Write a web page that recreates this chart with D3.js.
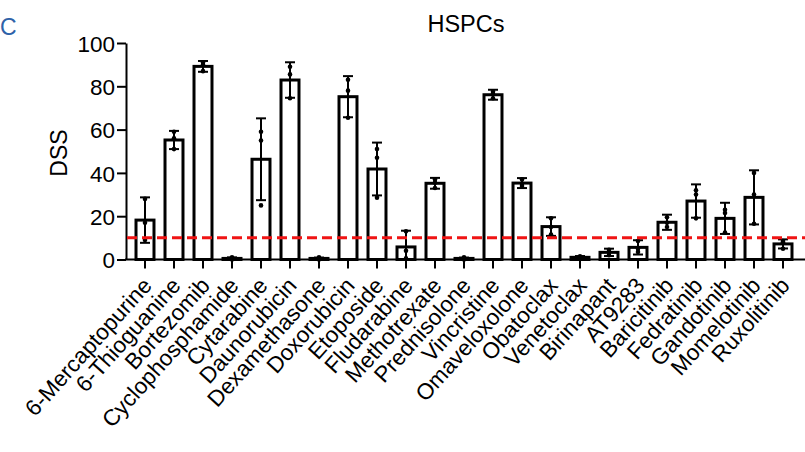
<!DOCTYPE html>
<html>
<head>
<meta charset="utf-8">
<script src="https://cdn.jsdelivr.net/npm/d3@7"></script>
<style>
  body { margin: 0; background: #fff; }
  text { font-family: Arial, "Liberation Sans", sans-serif; }
</style>
</head>
<body>
<div id="chart"></div>
<script>
const drugs = ['6-Mercaptopurine', '6-Thioguanine', 'Bortezomib', 'Cyclophosphamide', 'Cytarabine',
  'Daunorubicin', 'Dexamethasone', 'Doxorubicin', 'Etoposide', 'Fludarabine', 'Methotrexate',
  'Prednisolone', 'Vincristine', 'Omaveloxolone', 'Obatoclax', 'Venetoclax', 'Birinapant',
  'AT9283', 'Baricitinib', 'Fedratinib', 'Gandotinib', 'Momelotinib', 'Ruxolitinib'];
const meanDss = [18.2, 55.2, 89.2, 0.5, 46.3, 82.9, 0.5, 75.2, 41.8, 5.8, 35.2,
  0.5, 76.1, 35.3, 15.2, 1.0, 3.3, 5.6, 17.2, 27.0, 19.0, 28.7, 7.2];
const sdDss = [10.5, 4.2, 2.5, 0.5, 18.9, 8.2, 0.4, 9.5, 12.2, 7.5, 2.5,
  0.4, 2.3, 2.3, 4.3, 0.6, 1.7, 3.3, 3.5, 7.7, 7.2, 12.5, 2.1];
const replicates = [[28, 17, 9], [59, 56, 51], [91, 90, 87], [0, 0.5, 1], [59, 55, 25],
  [89, 85.5, 74.5], [0, 0.5, 1], [83, 78, 65.5], [51, 47, 28.5], [13, 4, 0.5], [37, 35.5, 33],
  [0, 0.5, 1], [77.5, 76.5, 74.5], [37, 35, 34], [19, 15, 11.5], [0.5, 1, 1.5], [4.5, 3.5, 2],
  [8.5, 5, 3.5], [19.5, 17, 15], [32, 30, 19], [23, 21.5, 12.5], [40, 30, 16.5], [8.5, 8, 5]];
const yTicks = [0, 20, 40, 60, 80, 100];
const threshold = 10;

const width = 805;
const height = 452;

const svg = d3.select('#chart')
  .append('svg')
  .attr('width', width)
  .attr('height', height);

// scales
const x = d3.scaleBand()
  .domain(drugs)
  .range([130.5, 797.5])
  .paddingInner(0.38)
  .paddingOuter(0.19);

const y = d3.scaleLinear()
  .domain([0, 100])
  .range([259.5, 43]);

// panel letter + title
svg.append('text')
  .attr('x', 0).attr('y', 35)
  .attr('font-size', 23)
  .attr('fill', '#2e62a8')
  .text('C');

svg.append('text')
  .attr('x', 466).attr('y', 32)
  .attr('text-anchor', 'middle')
  .attr('font-size', 23.5)
  .text('HSPCs');

// y axis
const yAxis = svg.append('g')
  .attr('transform', 'translate(126,0)')
  .call(d3.axisLeft(y).tickValues(yTicks).tickSize(9).tickPadding(2).tickSizeOuter(0));
yAxis.select('.domain').attr('stroke-width', 2);
yAxis.selectAll('.tick line').attr('stroke-width', 2);
yAxis.selectAll('.tick text')
  .attr('font-size', 22.5)
  .attr('font-family', 'Arial, "Liberation Sans", sans-serif')
  .attr('dy', '0.36em')
  .attr('fill', '#000');

svg.append('text')
  .attr('transform', 'translate(67,153) rotate(-90)')
  .attr('text-anchor', 'middle')
  .attr('font-size', 23)
  .text('DSS');

// bars
const rows = drugs.map((d, i) => ({ name: d, mean: meanDss[i], sd: sdDss[i], pts: replicates[i] }));

svg.append('g')
  .selectAll('rect')
  .data(rows)
  .enter()
  .append('rect')
  .attr('x', (d) => x(d.name))
  .attr('width', x.bandwidth())
  .attr('y', (d) => y(d.mean))
  .attr('height', (d) => y(0) - y(d.mean))
  .attr('fill', '#fff')
  .attr('stroke', '#000')
  .attr('stroke-width', 3);

// error bars
const err = svg.append('g')
  .selectAll('g')
  .data(rows)
  .enter()
  .append('g')
  .attr('transform', (d) => `translate(${x(d.name) + x.bandwidth() / 2},0)`)
  .attr('stroke', '#000')
  .attr('stroke-width', 2);

err.append('line')
  .attr('y1', (d) => y(Math.max(0, d.mean - d.sd)))
  .attr('y2', (d) => y(d.mean + d.sd));
err.append('line')
  .attr('x1', -5).attr('x2', 5)
  .attr('y1', (d) => y(d.mean + d.sd))
  .attr('y2', (d) => y(d.mean + d.sd));
err.append('line')
  .attr('x1', -5).attr('x2', 5)
  .attr('y1', (d) => y(Math.max(0, d.mean - d.sd)))
  .attr('y2', (d) => y(Math.max(0, d.mean - d.sd)));

// replicate dots
err.selectAll('circle')
  .data((d) => d.pts)
  .enter()
  .append('circle')
  .attr('r', 2.3)
  .attr('cy', (v) => y(v))
  .attr('fill', '#000')
  .attr('stroke', 'none');

// threshold line
svg.append('line')
  .attr('x1', 127).attr('x2', width)
  .attr('y1', y(threshold)).attr('y2', y(threshold))
  .attr('stroke', '#f01414')
  .attr('stroke-width', 3)
  .attr('stroke-dasharray', '10,5');

// x axis
const xAxis = svg.append('g')
  .attr('transform', `translate(0,${y(0)})`)
  .call(d3.axisBottom(x).tickSize(9).tickSizeOuter(0).tickFormat(''));
xAxis.select('.domain').remove();
xAxis.selectAll('.tick line').attr('stroke-width', 2);
svg.append('line')
  .attr('x1', 125).attr('x2', width)
  .attr('y1', y(0)).attr('y2', y(0))
  .attr('stroke', '#000')
  .attr('stroke-width', 2);

svg.append('g')
  .selectAll('text')
  .data(drugs)
  .enter()
  .append('text')
  .attr('transform', (d) => `translate(${x(d) + x.bandwidth() / 2 + 8},${y(0) + 27}) rotate(-48)`)
  .attr('text-anchor', 'end')
  .attr('font-size', 22.5)
  .text((d) => d);
</script>
</body>
</html>
